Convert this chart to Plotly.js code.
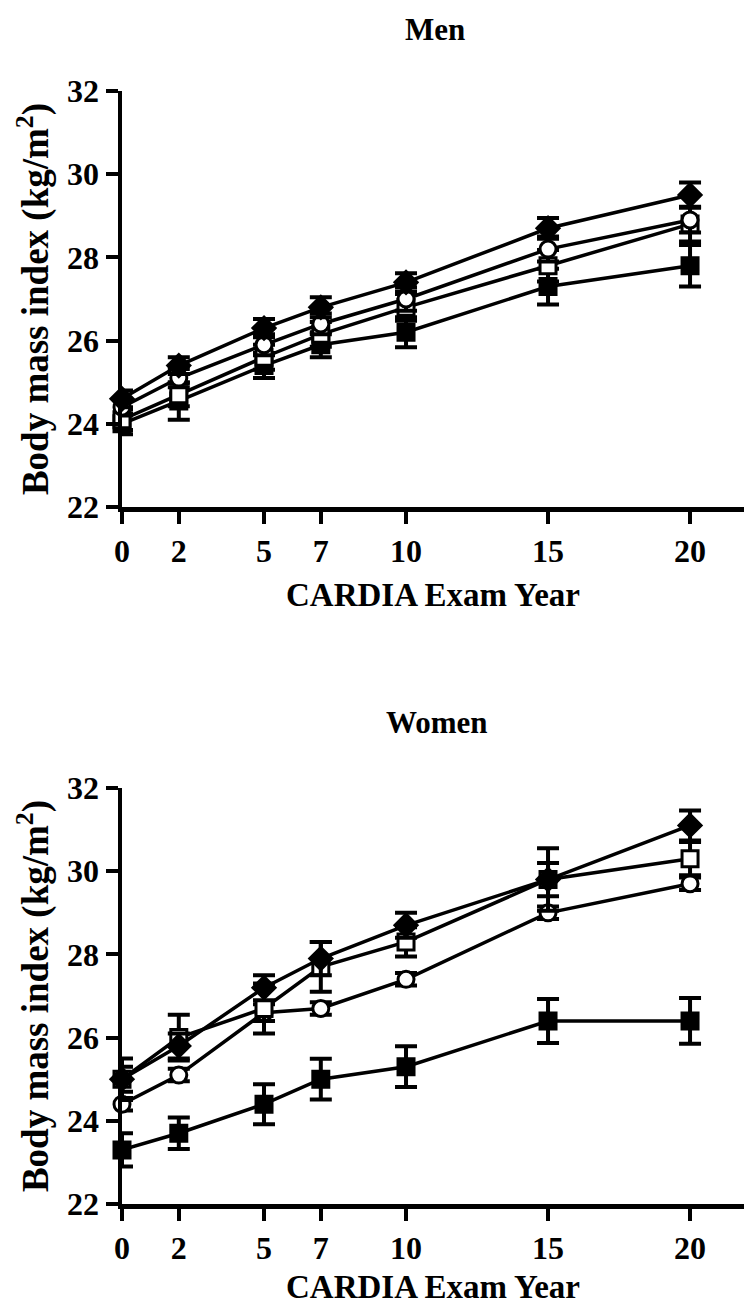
<!DOCTYPE html>
<html>
<head>
<meta charset="utf-8">
<script src="https://cdn.plot.ly/plotly-3.0.1.min.js"></script>
<style>html,body{margin:0;padding:0;background:#fff;}#chart{width:744px;height:1305px;}
#chart text{font-family:"Liberation Serif","Times New Roman",Times,serif !important;}</style>
</head>
<body>
<div id="chart"></div>
<script>
// Exam years
const years = [0, 2, 5, 7, 10, 15, 20];
const xTicks = [0, 2, 5, 7, 10, 15, 20];
const yTicks = [22, 24, 26, 28, 30, 32];

// Men: BMI means and SE
const menFilledDiamond = [24.6, 25.4, 26.3, 26.8, 27.4, 28.7, 29.5];
const menFilledDiamondErr = [0.2, 0.2, 0.22, 0.24, 0.22, 0.25, 0.3];
const menOpenCircle = [24.4, 25.1, 25.9, 26.4, 27.0, 28.2, 28.9];
const menOpenCircleErr = [0.2, 0.22, 0.25, 0.25, 0.28, 0.3, 0.3];
const menOpenSquare = [24.1, 24.7, 25.6, 26.15, 26.8, 27.8, 28.8];
const menOpenSquareErr = [0.25, 0.28, 0.3, 0.3, 0.32, 0.38, 0.42];
const menFilledSquare = [24.0, 24.55, 25.4, 25.9, 26.2, 27.3, 27.8];
const menFilledSquareErr = [0.25, 0.45, 0.3, 0.3, 0.36, 0.43, 0.5];

// Women: BMI means and SE
const womenFilledDiamond = [25.0, 25.8, 27.2, 27.9, 28.7, 29.8, 31.1];
const womenFilledDiamondErr = [0.3, 0.3, 0.3, 0.4, 0.3, 0.4, 0.36];
const womenOpenSquare = [25.0, 26.0, 26.7, 27.7, 28.3, 29.8, 30.3];
const womenOpenSquareErr = [0.5, 0.55, 0.6, 0.6, 0.35, 0.75, 0.4];
const womenOpenCircle = [24.4, 25.1, 26.6, 26.7, 27.4, 29.0, 29.7];
const womenOpenCircleErr = [0.15, 0.15, 0.2, 0.15, 0.15, 0.15, 0.15];
const womenFilledSquare = [23.3, 23.7, 24.4, 25.0, 25.3, 26.4, 26.4];
const womenFilledSquareErr = [0.4, 0.38, 0.48, 0.49, 0.49, 0.53, 0.55];

const FONT = '"Liberation Serif", "Times New Roman", Times, serif';

function series(y, err, symbol, fill, xa, ya) {
  return {
    x: years, y: y, xaxis: xa, yaxis: ya,
    type: 'scatter', mode: 'lines+markers', cliponaxis: false,
    line: {color: '#000', width: 3.5},
    marker: {symbol: symbol, size: symbol === 'diamond' ? 17 : 16, color: fill, line: {color: '#000', width: 3}},
    error_y: {type: 'data', array: err, visible: true, color: '#000', thickness: 4, width: 11},
    showlegend: false, hoverinfo: 'skip'
  };
}

const data = [
  series(menFilledSquare, menFilledSquareErr, 'square', '#000', 'x', 'y'),
  series(menOpenSquare, menOpenSquareErr, 'square', '#fff', 'x', 'y'),
  series(menOpenCircle, menOpenCircleErr, 'circle', '#fff', 'x', 'y'),
  series(menFilledDiamond, menFilledDiamondErr, 'diamond', '#000', 'x', 'y'),
  series(womenFilledSquare, womenFilledSquareErr, 'square', '#000', 'x2', 'y2'),
  series(womenOpenCircle, womenOpenCircleErr, 'circle', '#fff', 'x2', 'y2'),
  series(womenOpenSquare, womenOpenSquareErr, 'square', '#fff', 'x2', 'y2'),
  series(womenFilledDiamond, womenFilledDiamondErr, 'diamond', '#000', 'x2', 'y2')
];

const tickFont = {family: FONT, size: 32, color: '#000', weight: 'bold'};
const xTitleFont = {family: FONT, size: 33, color: '#000', weight: 'bold'};
const yTitleFont = {family: FONT, size: 37, color: '#000', weight: 'bold'};

function xAxis(anchor) {
  return {
    anchor: anchor, domain: [122/744, 1], range: [0, 21.9],
    tickmode: 'array', tickvals: xTicks, ticktext: xTicks.map(String),
    showline: true, linecolor: '#000', linewidth: 4.5,
    ticks: 'outside', ticklen: 12, tickwidth: 4, tickcolor: '#000',
    showgrid: false, zeroline: false, tickfont: tickFont, automargin: false,
    title: {text: 'CARDIA Exam Year', font: xTitleFont, standoff: 16}
  };
}
function yAxis(anchor, dom) {
  return {
    anchor: anchor, domain: dom, range: [22, 32],
    tickmode: 'array', tickvals: yTicks, ticktext: yTicks.map(String),
    showline: true, linecolor: '#000', linewidth: 4.5,
    ticks: 'outside', ticklen: 12, tickwidth: 4, tickcolor: '#000',
    showgrid: false, zeroline: false, tickfont: tickFont, automargin: false,
    title: {text: 'Body mass index (kg/m<sup>2</sup>)', font: yTitleFont, standoff: 8}
  };
}

const layout = {
  width: 744, height: 1305,
  margin: {l: 0, r: 0, t: 0, b: 0},
  paper_bgcolor: '#fff', plot_bgcolor: '#fff',
  font: {family: FONT, color: '#000'},
  xaxis: xAxis('y'),
  yaxis: yAxis('x', [1 - 507/1305, 1 - 91/1305]),
  xaxis2: xAxis('y2'),
  yaxis2: yAxis('x2', [1 - 1204/1305, 1 - 788/1305]),
  annotations: [
    {text: 'Men', x: 435, y: 1305 - 30, xref: 'paper', yref: 'paper', showarrow: false,
     font: {family: FONT, size: 31, color: '#000', weight: 'bold'}},
    {text: 'Women', x: 437, y: 1305 - 723, xref: 'paper', yref: 'paper', showarrow: false,
     font: {family: FONT, size: 31, color: '#000', weight: 'bold'}}
  ]
};
// convert pixel positions of annotations to paper coords
layout.annotations.forEach(a => { a.x = a.x / 744; a.y = a.y / 1305; a.xanchor = 'center'; a.yanchor = 'middle'; });

Plotly.newPlot('chart', data, layout, {staticPlot: true, displayModeBar: false});
</script>
</body>
</html>
